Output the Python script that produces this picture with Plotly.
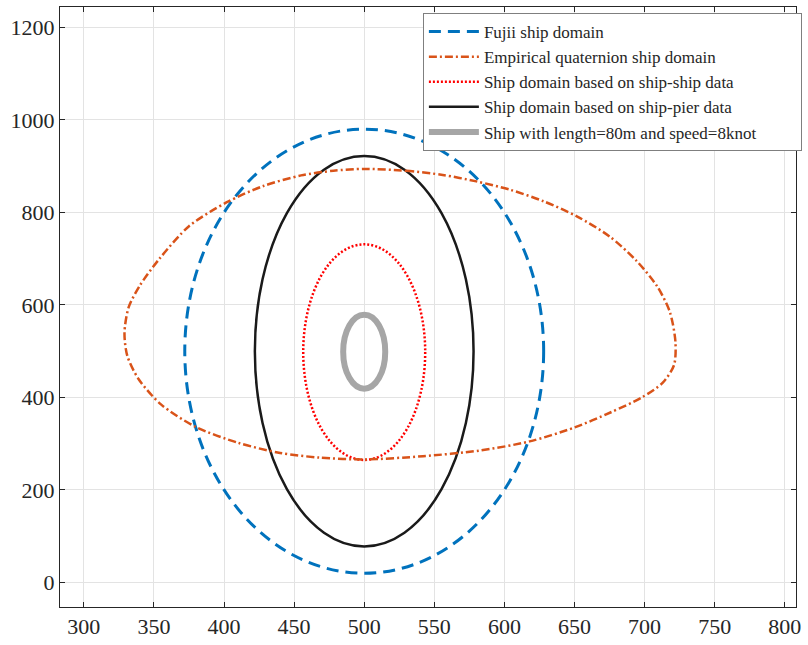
import plotly.graph_objects as go

# ---- data ----
# ellipse domains: name, centre x, centre y, semi-axis x, semi-axis y
domain_names = ["Fujii ship domain",
                "Ship domain based on ship-ship data",
                "Ship domain based on ship-pier data",
                "Ship with length=80m and speed=8knot"]
centre_x = [500, 500, 500, 500]
centre_y = [500, 498, 500, 499]
semi_x = [128, 43.5, 78, 15]
semi_y = [480, 233, 422, 80]

# empirical quaternion ship domain (traced boundary points)
quat_name = "Empirical quaternion ship domain"
quat_x = [500, 530, 556, 580, 604, 628, 652, 675, 694, 709, 718, 722, 721, 713, 698, 676,
          650, 618, 582, 542, 500, 468, 440, 410, 380, 355, 339, 331, 329, 332, 340, 354,
          375, 402, 428, 455, 478, 500]
quat_y = [894, 890, 881, 867, 849, 824, 791, 748, 696, 640, 585, 520, 470, 432, 400, 368,
          335, 305, 285, 273, 266, 270, 280, 302, 336, 385, 440, 490, 540, 595, 642, 700,
          770, 822, 857, 880, 890, 894]

x_ticks = [300, 350, 400, 450, 500, 550, 600, 650, 700, 750, 800]
y_ticks = [0, 200, 400, 600, 800, 1000, 1200]

# ---- styles ----
styles = [
    dict(color="#0072BD", width=3, dash="12px,7px"),
    dict(color="#FF0000", width=2.5, dash="2px,2px"),
    dict(color="#1a1a1a", width=2.5, dash="solid"),
    dict(color="#A6A6A6", width=6, dash="solid"),
]
orange = dict(color="#D95319", width=2.5, dash="8px,3px,2px,3px")

fig = go.Figure()

# ellipse outlines as axis-referenced shapes
for cx, cy, ax, ay, st in zip(centre_x, centre_y, semi_x, semi_y, styles):
    fig.add_shape(
        type="circle", xref="x", yref="y",
        x0=cx - ax, x1=cx + ax, y0=cy - ay, y1=cy + ay,
        line=dict(color=st["color"], width=st["width"], dash=st["dash"]),
        layer="between",
    )

# legend entries (in reference order)
legend_order = [domain_names[0], quat_name] + domain_names[1:]
legend_styles = [styles[0], orange] + styles[1:]
for n, st in zip(legend_order, legend_styles):
    if n == quat_name:
        fig.add_trace(go.Scatter(
            x=quat_x, y=quat_y, mode="lines", name=n,
            line=dict(color=st["color"], width=st["width"], dash=st["dash"],
                      shape="spline", smoothing=0.8),
        ))
    else:
        fig.add_trace(go.Scatter(
            x=[None], y=[None], mode="lines", name=n,
            line=dict(color=st["color"], width=st["width"], dash=st["dash"]),
        ))

font_family = "Liberation Serif, Times New Roman, serif"

axis_common = dict(
    showgrid=True, gridcolor="#e3e3e3", gridwidth=1,
    showline=True, linecolor="#262626", linewidth=1, mirror="ticks",
    ticks="inside", ticklen=5, tickcolor="#262626",
    zeroline=False,
    tickfont=dict(family=font_family, size=22, color="#262626"),
)

fig.update_xaxes(range=[283, 808], tickvals=x_ticks, **axis_common)
fig.update_yaxes(range=[-53, 1244], tickvals=y_ticks, **axis_common)

fig.update_layout(
    width=808, height=645,
    margin=dict(l=60, r=6, t=6, b=36),
    plot_bgcolor="white", paper_bgcolor="white",
    font=dict(family=font_family, color="#262626"),
    showlegend=True,
    legend=dict(
        orientation="h",
        x=1.008, y=0.99, xanchor="right", yanchor="top",
        bgcolor="white", bordercolor="#7f7f7f", borderwidth=1,
        font=dict(family=font_family, size=17, color="#262626"),
        tracegroupgap=0, itemwidth=50,
        entrywidth=312, entrywidthmode="pixels",
    ),
)

fig.write_html("out.html")
